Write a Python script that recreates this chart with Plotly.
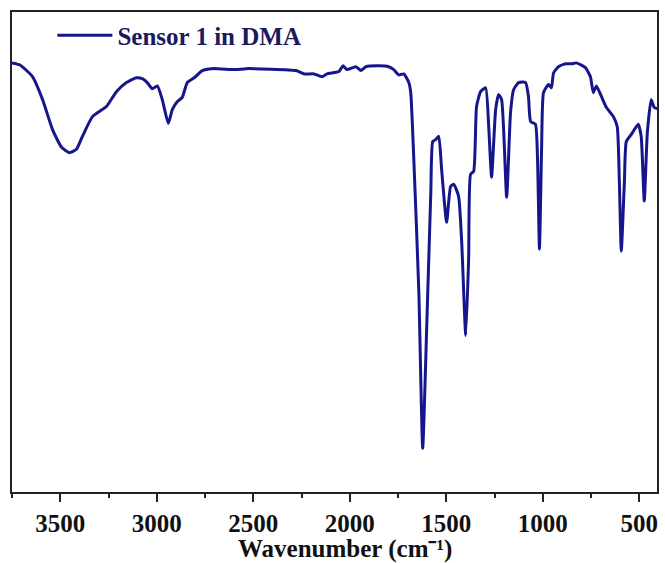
import plotly.graph_objects as go

# IR spectrum of "Sensor 1 in DMA"
wavenumber = [3750, 3710, 3643, 3591, 3540, 3493, 3452, 3416, 3385, 3333,
              3261, 3209, 3157, 3106, 3075, 3049, 3023, 2997, 2971, 2940,
              2919, 2894, 2868, 2842, 2806, 2764, 2713, 2589, 2537, 2278,
              2237, 2185, 2144, 2118, 2056, 2035, 2015, 1968, 1942, 1916,
              1849, 1798, 1772, 1746, 1720, 1694, 1684, 1668, 1642, 1622,
              1601, 1580, 1570, 1555, 1539, 1524, 1498, 1477, 1461, 1436,
              1420, 1399, 1384, 1374, 1358, 1343, 1322, 1296, 1280, 1265,
              1244, 1229, 1213, 1187, 1167, 1151, 1125, 1089, 1074, 1063,
              1038, 1027, 1017, 1006, 996, 970, 955, 944, 919, 882,
              851, 826, 779, 753, 738, 722, 696, 670, 634, 614,
              603, 593, 577, 567, 541, 505, 490, 474, 458, 438,
              422, 407]
transmittance = [89.4, 89.0, 86.5, 81.7, 75.5, 71.8, 70.7, 71.4, 74.1, 78.2,
                 80.3, 83.4, 85.3, 86.3, 86.1, 85.3, 84.0, 84.6, 81.7, 76.8,
                 79.7, 81.3, 82.2, 85.3, 86.3, 87.8, 88.2, 88.0, 88.2, 87.8,
                 87.1, 87.1, 86.5, 87.1, 87.6, 88.8, 88.0, 88.6, 87.8, 88.6,
                 88.8, 88.6, 88.0, 86.9, 87.1, 85.3, 83.2, 69.3, 41.7, 9.1,
                 34.6, 62.4, 73.0, 73.4, 74.1, 67.2, 56.2, 63.7, 64.1, 61.6,
                 52.1, 32.6, 48.5, 66.2, 66.8, 80.3, 83.4, 84.2, 76.1, 65.6,
                 79.7, 82.8, 81.7, 61.4, 79.0, 83.8, 85.3, 85.3, 82.4, 77.2,
                 76.6, 69.3, 50.6, 71.4, 83.2, 84.9, 84.2, 87.3, 88.6, 89.2,
                 89.2, 89.4, 88.4, 86.5, 83.2, 84.6, 82.4, 80.1, 78.2, 76.1,
                 64.5, 50.2, 64.5, 73.0, 74.5, 76.6, 74.1, 60.6, 74.9, 81.7,
                 80.1, 79.9]

series_name = "Sensor 1 in DMA"
x_title = "Wavenumber (cm\u207b\u00b9)"
x_tick_values = [3500, 3000, 2500, 2000, 1500, 1000, 500]
x_tick_labels = ["3500", "3000", "2500", "2000", "1500", "1000", "500"]

LINE_COLOR = "#16168c"
FRAME_COLOR = "#222222"
FONT = "Liberation Serif"

fig = go.Figure()
fig.add_trace(go.Scatter(
    x=wavenumber, y=transmittance, mode="lines", name=series_name,
    line=dict(color=LINE_COLOR, width=3, shape="spline", smoothing=0.5),
))

fig.update_layout(
    width=665, height=563,
    margin=dict(l=12, r=6, t=12, b=71),
    paper_bgcolor="white", plot_bgcolor="white",
    font=dict(family=FONT, size=26, color="#111111", weight="bold"),
    showlegend=True,
    legend=dict(
        x=0.0626, y=0.951, xanchor="left", yanchor="middle",
        bgcolor="rgba(0,0,0,0)", borderwidth=0, itemwidth=55,
        font=dict(family=FONT, size=25, color="#1a1a5c", weight="bold"),
    ),
    annotations=[dict(
        text=x_title, xref="paper", yref="paper", x=0.516, y=-0.152,
        xanchor="center", yanchor="bottom", showarrow=False,
        font=dict(family=FONT, size=25, color="#111111", weight="bold"),
    )],
)

fig.update_xaxes(
    range=[3750, 408], autorange=False,
    tickvals=x_tick_values, ticktext=x_tick_labels,
    ticks="outside", ticklen=8, tickwidth=2, tickcolor=FRAME_COLOR,
    minor=dict(dtick=250, tick0=500, ticks="outside", ticklen=4,
               tickwidth=2, tickcolor=FRAME_COLOR),
    showline=True, linewidth=2, linecolor=FRAME_COLOR, mirror=True,
    showgrid=False, zeroline=False, automargin=False,
    tickfont=dict(family=FONT, size=25, color="#111111", weight="bold"),
)
fig.update_yaxes(
    range=[0, 100], autorange=False,
    showticklabels=False, ticks="",
    showline=True, linewidth=2, linecolor=FRAME_COLOR, mirror=True,
    showgrid=False, zeroline=False,
)

fig.write_html("out.html")
